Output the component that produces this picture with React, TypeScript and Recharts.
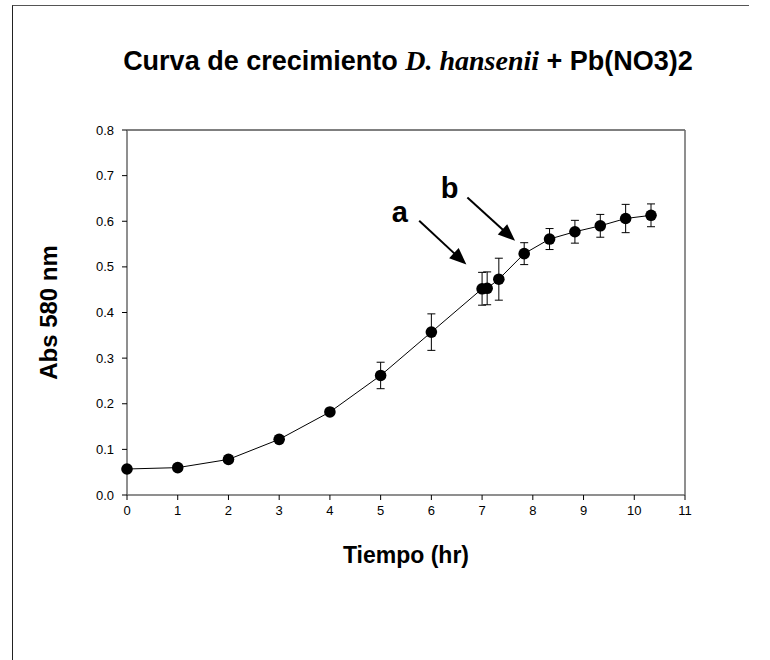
import React from 'react';
import {
  ComposedChart,
  Line,
  XAxis,
  YAxis,
  ErrorBar,
  ReferenceLine,
  ReferenceDot,
  Label,
} from 'recharts';

// Growth of D. hansenii with Pb(NO3)2: absorbance at 580 nm over time
const hours = [0, 1, 2, 3, 4, 5, 6, 7.0, 7.1, 7.33, 7.83, 8.33, 8.83, 9.33, 9.83, 10.33];
const absorbance = [
  0.057, 0.06, 0.078, 0.122, 0.182, 0.262, 0.357, 0.452, 0.453, 0.473, 0.529, 0.561, 0.577,
  0.59, 0.606, 0.613,
];
const deviation = [
  0.003, 0.002, 0.004, 0.006, 0.005, 0.029, 0.04, 0.036, 0.036, 0.046, 0.024, 0.023, 0.025,
  0.025, 0.031, 0.025,
];

const xTicks = [0, 1, 2, 3, 4, 5, 6, 7, 8, 9, 10, 11];
const yTicks = [0, 0.1, 0.2, 0.3, 0.4, 0.5, 0.6, 0.7, 0.8];

// Annotation arrows "a" and "b" (data coordinates)
const arrowA = { label: 'a', text: [5.38, 0.62], from: [5.76, 0.601], to: [6.69, 0.505] };
const arrowB = { label: 'b', text: [6.36, 0.673], from: [6.71, 0.652], to: [7.65, 0.557] };
const annotations = [arrowA, arrowB];

const data = hours.map((h, i) => ({ h, abs: absorbance[i], sd: deviation[i] }));

const SANS = '"Liberation Sans", Arial, sans-serif';
const SERIF = '"Liberation Serif", "Times New Roman", serif';

const ArrowShape = (props: any) => {
  const { x1, y1, x2, y2 } = props;
  const dx = x2 - x1;
  const dy = y2 - y1;
  const len = Math.hypot(dx, dy) || 1;
  const ux = dx / len;
  const uy = dy / len;
  const headLen = 17;
  const headHalf = 7;
  const bx = x2 - ux * headLen;
  const by = y2 - uy * headLen;
  const pts = `${x2},${y2} ${bx - uy * headHalf},${by + ux * headHalf} ${bx + uy * headHalf},${by - ux * headHalf}`;
  return (
    <g>
      <line x1={x1} y1={y1} x2={bx + ux * 2} y2={by + uy * 2} stroke="#000" strokeWidth={2} />
      <polygon points={pts} fill="#000" />
    </g>
  );
};

const letterShape = (letter: string) => (p: any) => (
  <text
    x={p.cx}
    y={p.cy}
    textAnchor="middle"
    dominantBaseline="central"
    fontFamily={SANS}
    fontWeight="bold"
    fontSize={29}
    fill="#000"
  >
    {letter}
  </text>
);

const Dot = (p: any) => <circle cx={p.cx} cy={p.cy} r={5.8} fill="#000" stroke="none" />;

export default function App() {
  return (
    <div
      style={{
        position: 'absolute',
        left: 0,
        top: 0,
        width: 770,
        height: 660,
        background: '#fff',
        overflow: 'hidden',
      }}
    >
      <div
        style={{
          position: 'absolute',
          left: 12,
          top: 5,
          width: 736,
          height: 700,
          borderLeft: '1px solid #222',
          borderTop: '1px solid #555',
        }}
      />
      <div
        style={{
          position: 'absolute',
          left: 0,
          width: 816,
          top: 45,
          textAlign: 'center',
          fontFamily: SANS,
          fontWeight: 'bold',
          fontSize: 27,
          color: '#000',
          whiteSpace: 'nowrap',
        }}
      >
        Curva de crecimiento{' '}
        <span style={{ fontFamily: SERIF, fontStyle: 'italic', fontSize: 28 }}>D. hansenii</span> +
        Pb(NO3)2
      </div>
      <div style={{ position: 'absolute', left: 0, top: 0 }}>
        <ComposedChart
          width={770}
          height={660}
          data={data}
          margin={{ top: 130, right: 85, bottom: 105, left: 37 }}
        >
          <XAxis
            type="number"
            dataKey="h"
            domain={[0, 11]}
            ticks={xTicks}
            interval={0}
            height={60}
            tickSize={5}
            tickMargin={6}
            axisLine={{ stroke: '#6a6a6a', strokeWidth: 1.5 }}
            tickLine={{ stroke: '#000' }}
            tick={{ fill: '#000', fontSize: 13, fontFamily: SANS }}
          >
            <Label
              content={(lp: any) => {
                const vb = lp.viewBox;
                return (
                  <text
                    x={vb.x + vb.width / 2}
                    y={vb.y + 68}
                    textAnchor="middle"
                    fontFamily={SANS}
                    fontWeight="bold"
                    fontSize={23}
                    fill="#000"
                  >
                    Tiempo (hr)
                  </text>
                );
              }}
            />
          </XAxis>
          <YAxis
            type="number"
            domain={[0, 0.8]}
            ticks={yTicks}
            interval={0}
            width={90}
            tickSize={5}
            tickMargin={8}
            tickFormatter={(v: number) => v.toFixed(1)}
            axisLine={{ stroke: '#6a6a6a', strokeWidth: 1.5 }}
            tickLine={{ stroke: '#000' }}
            tick={{ fill: '#000', fontSize: 13, fontFamily: SANS }}
          >
            <Label
              content={(lp: any) => {
                const vb = lp.viewBox;
                const cx = vb.x + 11;
                const cy = vb.y + vb.height / 2;
                return (
                  <text
                    x={cx}
                    y={cy}
                    transform={`rotate(-90 ${cx} ${cy})`}
                    textAnchor="middle"
                    dominantBaseline="central"
                    fontFamily={SANS}
                    fontWeight="bold"
                    fontSize={24}
                    fill="#000"
                  >
                    Abs 580 nm
                  </text>
                );
              }}
            />
          </YAxis>
          <ReferenceLine y={0.8} stroke="#000" strokeWidth={1} />
          <ReferenceLine x={11} stroke="#6a6a6a" strokeWidth={1.5} />
          <Line
            type="linear"
            dataKey="abs"
            stroke="#000"
            strokeWidth={1}
            dot={<Dot />}
            activeDot={false}
            isAnimationActive={false}
          >
            <ErrorBar dataKey="sd" width={4} stroke="#000" strokeWidth={1} direction="y" />
          </Line>
          {annotations.map((a) => (
            <ReferenceLine
              key={`arrow-${a.label}`}
              segment={[
                { x: a.from[0], y: a.from[1] },
                { x: a.to[0], y: a.to[1] },
              ]}
              shape={<ArrowShape />}
            />
          ))}
          {annotations.map((a) => (
            <ReferenceDot
              key={`label-${a.label}`}
              x={a.text[0]}
              y={a.text[1]}
              r={0}
              shape={letterShape(a.label)}
            />
          ))}
        </ComposedChart>
      </div>
    </div>
  );
}
